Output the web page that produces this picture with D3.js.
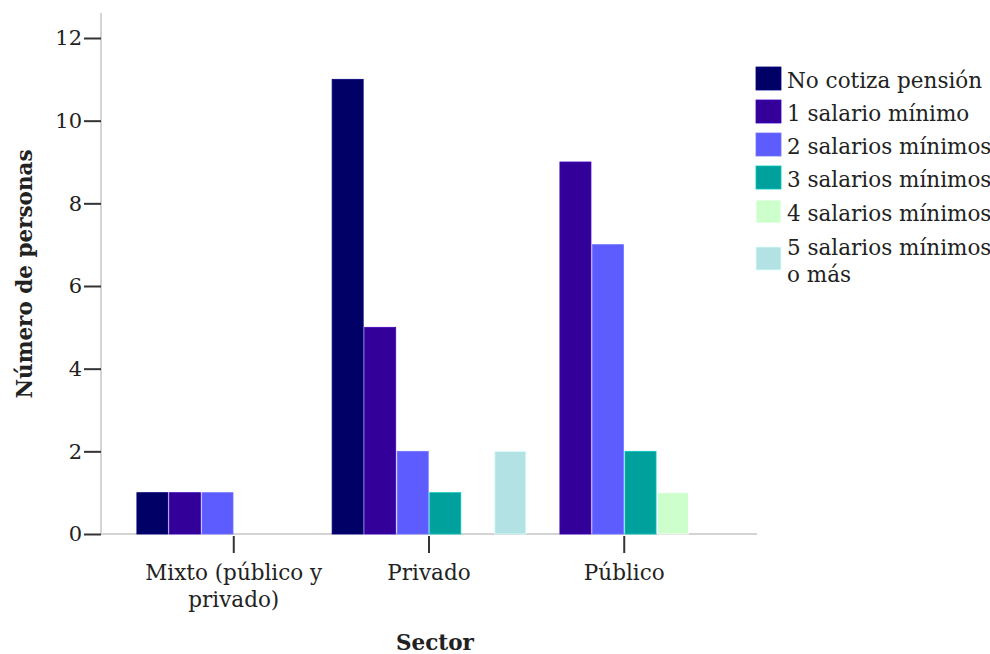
<!DOCTYPE html>
<html><head><meta charset="utf-8">
<script src="https://cdn.jsdelivr.net/npm/d3@7"></script>
<style>body{margin:0;background:#fff}svg{display:block}</style>
</head><body>
<svg id="c" width="990" height="654"></svg>
<script>
const sectors = ["Mixto (público y privado)", "Privado", "Público"];
const sectorLines = [["Mixto (público y", "privado)"], ["Privado"], ["Público"]];
const series = ["No cotiza pensión", "1 salario mínimo", "2 salarios mínimos", "3 salarios mínimos", "4 salarios mínimos", "5 salarios mínimos o más"];
const legendLines = [["No cotiza pensión"], ["1 salario mínimo"], ["2 salarios mínimos"], ["3 salarios mínimos"], ["4 salarios mínimos"], ["5 salarios mínimos", "o más"]];
const colors = ["#000066", "#330099", "#5c5cff", "#00a09c", "#ccffcc", "#b3e2e4"];
const mixto = [1, 1, 1, 0, 0, 0];
const privado = [11, 5, 2, 1, 0, 2];
const publico = [0, 9, 7, 2, 1, 0];
const values = [mixto, privado, publico];
const yTicks = [0, 2, 4, 6, 8, 10, 12];

const svg = d3.select("#c");
const font = "DejaVu Serif";
const x0 = d3.scaleBand().domain(sectors).range([101, 757]).paddingInner(0).paddingOuter(0.18);
const x1 = d3.scaleBand().domain(series).range([0, x0.bandwidth()]).padding(0);
const y = d3.scaleLinear().domain([0, 12]).range([534, 38]);

svg.append("line").attr("x1", 101).attr("x2", 101).attr("y1", 13).attr("y2", 534)
  .attr("stroke", "#d4d4d4").attr("stroke-width", 2);
svg.append("line").attr("x1", 101).attr("x2", 757).attr("y1", 534).attr("y2", 534)
  .attr("stroke", "#d4d4d4").attr("stroke-width", 2);

const yAxis = d3.axisLeft(y).tickValues(yTicks).tickSize(17).tickPadding(2).tickFormat(d3.format("d"));
const gy = svg.append("g").attr("transform", "translate(101,0)").call(yAxis);
gy.attr("font-family", font).attr("font-size", 21);
gy.select(".domain").remove();
gy.selectAll(".tick line").attr("stroke", "#333").attr("stroke-width", 2);
gy.selectAll(".tick text").attr("fill", "#222");

sectors.forEach((s, i) => {
  const g = svg.append("g").attr("transform", `translate(${x0(s)},0)`);
  g.selectAll("rect").data(series.map((k, j) => ({k, v: values[i][j], c: colors[j]})).filter(d => d.v > 0))
    .join("rect")
    .attr("x", d => x1(d.k) + 0.75)
    .attr("width", x1.bandwidth() - 1.5)
    .attr("y", d => y(d.v))
    .attr("height", d => y(0) - y(d.v))
    .attr("fill", d => d.c)
    .attr("stroke", d => d3.color(d.c).brighter(0.6))
    .attr("stroke-width", 0.8);
});

const xAxis = d3.axisBottom(x0).tickSize(17).tickFormat("");
const gx = svg.append("g").attr("transform", "translate(0,536)").call(xAxis);
gx.select(".domain").remove();
gx.selectAll(".tick line").attr("stroke", "#333").attr("stroke-width", 2);
sectors.forEach((s, i) => {
  const t = svg.append("text").attr("y", 580)
    .attr("text-anchor", "middle").style("font-family", font).attr("font-size", 21.5).attr("fill", "#222");
  sectorLines[i].forEach((ln, k) => t.append("tspan").attr("x", x0(s) + x0.bandwidth() / 2).attr("dy", k ? 27 : 0).text(ln));
});

svg.append("text").attr("x", 435).attr("y", 650).attr("text-anchor", "middle")
  .style("font-family", font).attr("font-size", 21.5).attr("font-weight", "bold").attr("fill", "#222").text("Sector");
svg.append("text").attr("transform", "translate(32,274) rotate(-90)").attr("text-anchor", "middle")
  .style("font-family", font).attr("font-size", 21.5).attr("font-weight", "bold").attr("fill", "#222").text("Número de personas");

const rowY = [67, 100, 133, 166, 200, 247];
series.forEach((s, i) => {
  svg.append("rect").attr("x", 756).attr("y", rowY[i]).attr("width", 25).attr("height", 23)
    .attr("fill", colors[i]).attr("stroke", d3.color(colors[i]).brighter(0.6)).attr("stroke-width", 0.8);
  const lines = legendLines[i];
  const t = svg.append("text").style("font-family", font).attr("font-size", 21.5).attr("fill", "#222");
  const startY = lines.length > 1 ? rowY[i] + 8 : rowY[i] + 21;
  lines.forEach((ln, k) => t.append("tspan").attr("x", 787).attr("y", startY + k * 27).text(ln));
});
</script>
</body></html>
